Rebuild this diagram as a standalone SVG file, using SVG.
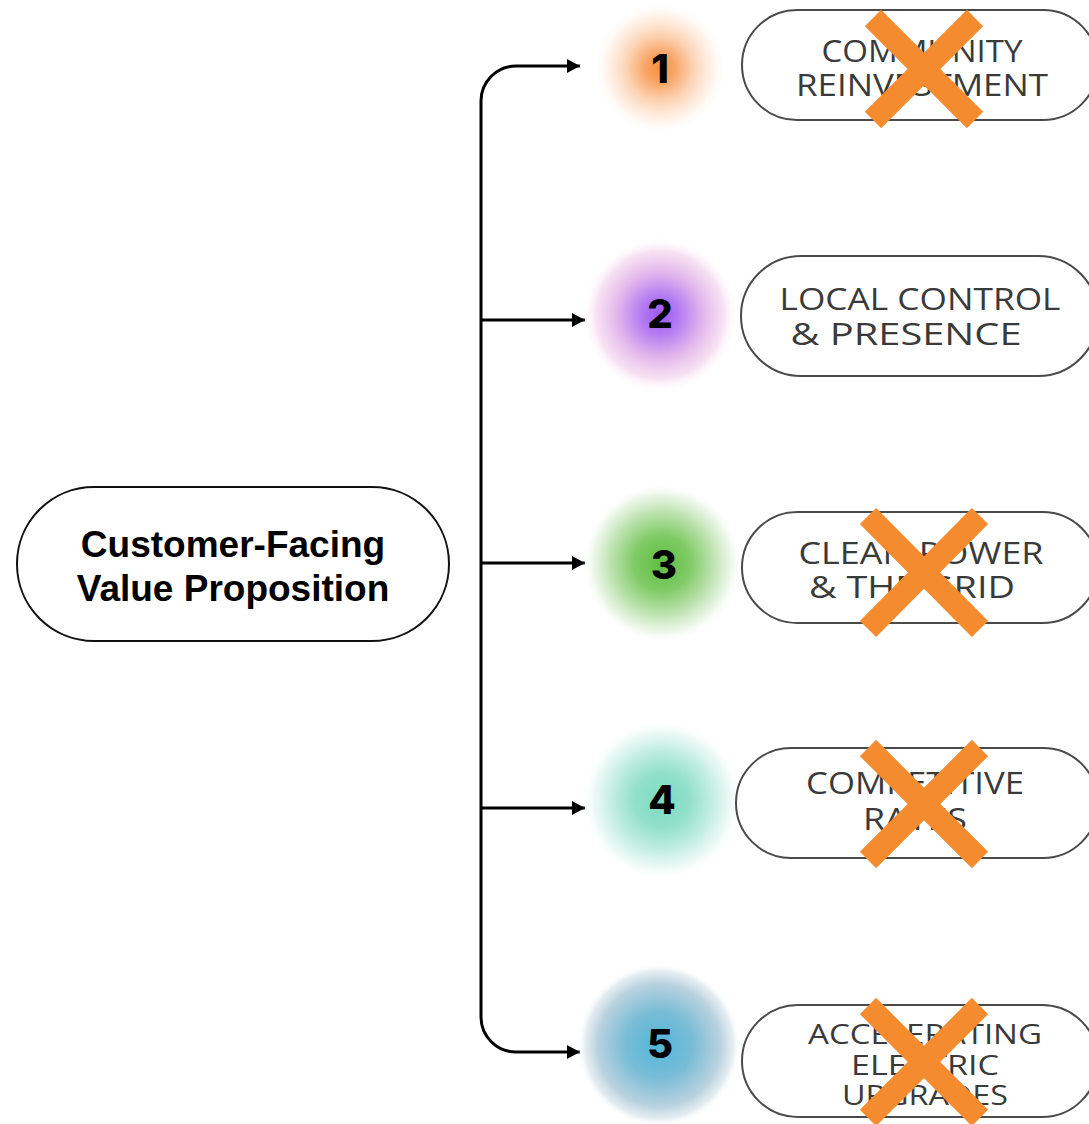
<svg xmlns="http://www.w3.org/2000/svg" width="1089" height="1124" viewBox="0 0 1089 1124">
  <style>
    .pill { fill: #fff; stroke: #4a4a4a; stroke-width: 2; }
    .root { fill: #fff; stroke: #111; stroke-width: 2; }
    .root-text { font-family: "Liberation Sans", Arial, sans-serif; font-weight: bold; font-size: 37px; fill: #000; text-anchor: middle; }
    .label { font-family: "Open Sans", "Noto Sans", sans-serif; font-size: 31px; fill: #3a3a3a; text-anchor: middle; }
    .small { font-size: 28px; }
    .num { font-family: Inter, "Open Sans", sans-serif; font-weight: 800; font-size: 40px; fill: #000; text-anchor: middle; }
    .wire { fill: none; stroke: #000; stroke-width: 3; }
    .cross { stroke: #f48c2f; stroke-width: 23; stroke-linecap: butt; }
  </style>
  <defs>
    <marker id="arrow" markerUnits="userSpaceOnUse" markerWidth="14" markerHeight="16" refX="13" refY="8" orient="auto">
      <path d="M0,1 L13,8 L0,15 z" fill="#000"/>
    </marker>
    <radialGradient id="glow1">
      <stop offset="0" stop-color="#f6903c"/>
      <stop offset="0.22" stop-color="#f8a465"/>
      <stop offset="0.5" stop-color="#fcd2b2"/>
      <stop offset="0.8" stop-color="#fef0e5" stop-opacity="0.8"/>
      <stop offset="1" stop-color="#fff" stop-opacity="0"/>
    </radialGradient>
    <radialGradient id="glow2">
      <stop offset="0" stop-color="#9a58f4"/>
      <stop offset="0.25" stop-color="#b47cf2"/>
      <stop offset="0.55" stop-color="#e2b6ec"/>
      <stop offset="0.82" stop-color="#f6dcf0" stop-opacity="0.85"/>
      <stop offset="1" stop-color="#fff" stop-opacity="0"/>
    </radialGradient>
    <radialGradient id="glow3">
      <stop offset="0" stop-color="#5fbd42"/>
      <stop offset="0.35" stop-color="#80cb66"/>
      <stop offset="0.65" stop-color="#bfe3b2"/>
      <stop offset="0.85" stop-color="#e6f4e1" stop-opacity="0.85"/>
      <stop offset="1" stop-color="#fff" stop-opacity="0"/>
    </radialGradient>
    <radialGradient id="glow4">
      <stop offset="0" stop-color="#79dbc0"/>
      <stop offset="0.35" stop-color="#93e0cb"/>
      <stop offset="0.65" stop-color="#c6efe3"/>
      <stop offset="0.85" stop-color="#e8f8f3" stop-opacity="0.85"/>
      <stop offset="1" stop-color="#fff" stop-opacity="0"/>
    </radialGradient>
    <radialGradient id="glow5">
      <stop offset="0" stop-color="#52b7da"/>
      <stop offset="0.4" stop-color="#78bcd6"/>
      <stop offset="0.75" stop-color="#b9d2df"/>
      <stop offset="0.9" stop-color="#dfe9ef" stop-opacity="0.85"/>
      <stop offset="1" stop-color="#fff" stop-opacity="0"/>
    </radialGradient>
  </defs>

  <rect width="1089" height="1124" fill="#fff"/>

  <!-- root node -->
  <g id="root">
    <rect class="root" x="17" y="487" width="432" height="154" rx="77"/>
    <text class="root-text" x="233" y="557">Customer-Facing</text>
    <text class="root-text" x="233" y="601">Value Proposition</text>
  </g>

  <!-- connectors -->
  <g id="connectors">
    <path class="wire" d="M481 320 V101 A35 35 0 0 1 516 66 H580" marker-end="url(#arrow)"/>
    <path class="wire" d="M481 320 V1017 A35 35 0 0 0 516 1052 H580" marker-end="url(#arrow)"/>
    <path class="wire" d="M481 320 H585" marker-end="url(#arrow)"/>
    <path class="wire" d="M481 563 H585" marker-end="url(#arrow)"/>
    <path class="wire" d="M481 808 H585" marker-end="url(#arrow)"/>
  </g>

  <!-- value 1 -->
  <g id="value-1">
    <circle cx="660" cy="68" r="66" fill="url(#glow1)"/>
    <text class="num" x="660" y="83">1</text>
    <rect class="pill" x="742" y="10" width="356" height="110" rx="55"/>
    <text class="label" x="922" y="62" textLength="201" lengthAdjust="spacingAndGlyphs">COMMUNITY</text>
    <text class="label" x="922" y="96" textLength="252" lengthAdjust="spacingAndGlyphs">REINVESTMENT</text>
    <line class="cross" x1="873" y1="18" x2="975" y2="120"/>
    <line class="cross" x1="975" y1="18" x2="873" y2="120"/>
  </g>

  <!-- value 2 -->
  <g id="value-2">
    <circle cx="660" cy="315" r="78" fill="url(#glow2)"/>
    <text class="num" x="660" y="328">2</text>
    <rect class="pill" x="741" y="256" width="357" height="120" rx="60"/>
    <text class="label" x="920" y="310" textLength="281" lengthAdjust="spacingAndGlyphs">LOCAL CONTROL</text>
    <text class="label" x="906" y="345" textLength="231" lengthAdjust="spacingAndGlyphs">&amp; PRESENCE</text>
  </g>

  <!-- value 3 -->
  <g id="value-3">
    <circle cx="662" cy="563" r="80" fill="url(#glow3)"/>
    <text class="num" x="664" y="579">3</text>
    <rect class="pill" x="742" y="512" width="356" height="111" rx="55.5"/>
    <text class="label" x="921" y="564" textLength="245" lengthAdjust="spacingAndGlyphs">CLEAN POWER</text>
    <text class="label" x="912" y="598" textLength="206" lengthAdjust="spacingAndGlyphs">&amp; THE GRID</text>
    <line class="cross" x1="868" y1="516" x2="980" y2="629"/>
    <line class="cross" x1="980" y1="516" x2="868" y2="629"/>
  </g>

  <!-- value 4 -->
  <g id="value-4">
    <circle cx="662" cy="800" r="80" fill="url(#glow4)"/>
    <text class="num" x="662" y="814">4</text>
    <rect class="pill" x="736" y="748" width="362" height="110" rx="55"/>
    <text class="label" x="915" y="794" textLength="218" lengthAdjust="spacingAndGlyphs">COMPETITIVE</text>
    <text class="label" x="915" y="830" textLength="104" lengthAdjust="spacingAndGlyphs">RATES</text>
    <line class="cross" x1="868" y1="748" x2="980" y2="860"/>
    <line class="cross" x1="980" y1="748" x2="868" y2="860"/>
  </g>

  <!-- value 5 -->
  <g id="value-5">
    <circle cx="659" cy="1045" r="82" fill="url(#glow5)"/>
    <text class="num" x="660" y="1058">5</text>
    <rect class="pill" x="742" y="1005" width="356" height="112" rx="56"/>
    <text class="label small" x="925" y="1044" textLength="234" lengthAdjust="spacingAndGlyphs">ACCELERATING</text>
    <text class="label small" x="925" y="1075" textLength="148" lengthAdjust="spacingAndGlyphs">ELECTRIC</text>
    <text class="label small" x="925" y="1105" textLength="166" lengthAdjust="spacingAndGlyphs">UPGRADES</text>
    <line class="cross" x1="868" y1="1006" x2="980" y2="1118"/>
    <line class="cross" x1="980" y1="1006" x2="868" y2="1118"/>
  </g>
</svg>
